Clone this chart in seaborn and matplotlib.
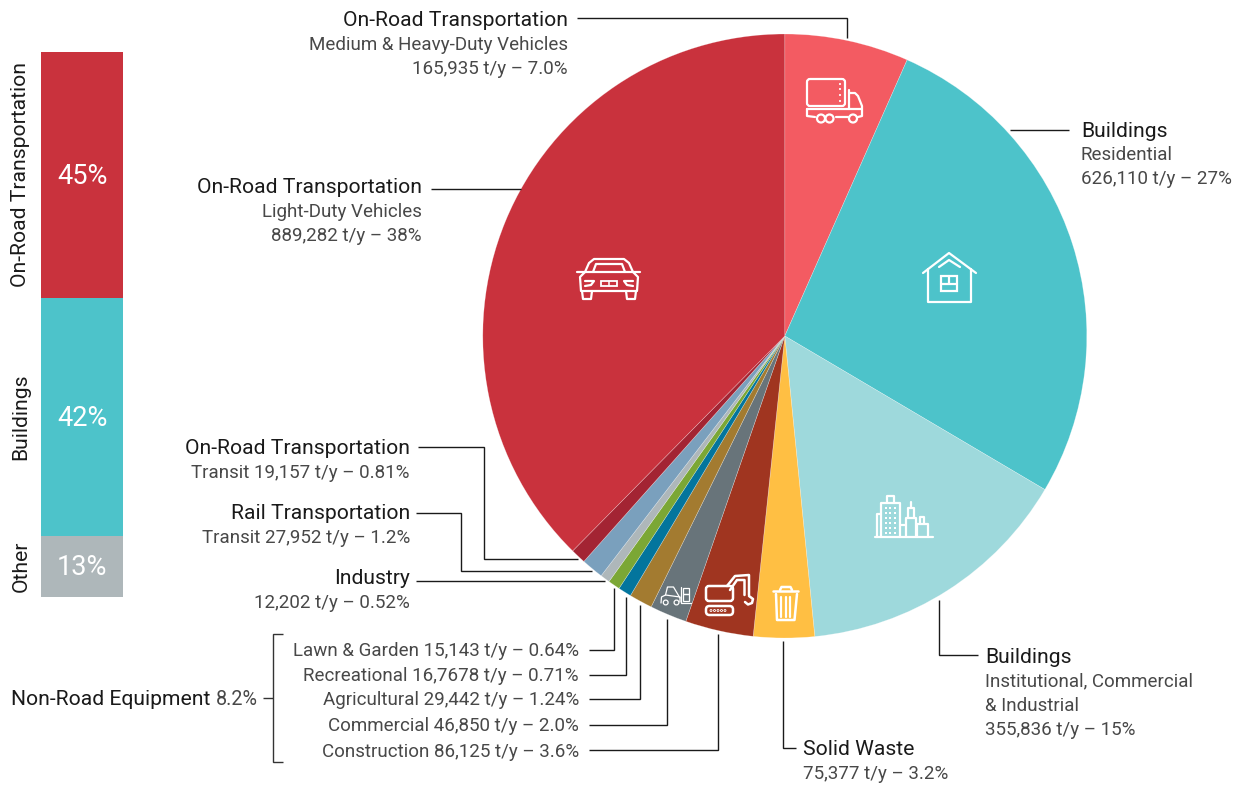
import matplotlib
matplotlib.use("Agg")
import matplotlib.pyplot as plt
from matplotlib.patches import FancyBboxPatch, Circle, Rectangle
import seaborn as sns
import pandas as pd

# ---- data ----
sector_names = ["Medium & Heavy-Duty Vehicles", "Residential", "Institutional, Commercial & Industrial",
                "Solid Waste", "Construction", "Commercial", "Agricultural", "Recreational",
                "Lawn & Garden", "Industry", "Rail Transit", "Road Transit", "Light-Duty Vehicles"]
# wedge sizes as drawn in the picture (the first wedges are drawn a little off their printed t/y)
sector_tonnes = [157000, 635000, 353000, 77000, 86125, 46850, 29442, 16768, 15143, 12202, 27952, 19157, 889282]
sector_colors = ["#F35B62", "#4DC3CA", "#9ED9DC", "#FFBF43", "#A03520", "#68747A", "#A37B30",
                 "#03759D", "#7BA735", "#AEB7BA", "#7AA0BD", "#A32433", "#C9323D"]

group_names = ["On-Road Transportation", "Buildings", "Other"]
group_heights = [45.1, 43.7, 11.2]   # drawn share of the stacked column
group_labels = ["45%", "42%", "13%"]
group_colors = ["#C9323D", "#4DC3CA", "#AEB7BA"]

W, H = 1243, 788
sns.set_theme(style="white")
plt.rcParams["font.family"] = ["Roboto", "DejaVu Sans"]
DARK, MID = "#1a1a1a", "#484848"
FS, FS2 = 15.2, 13.5

fig = plt.figure(figsize=(W / 100, H / 100), dpi=100, facecolor="white")


def px_axes(l, t, w, h, **kw):
    return fig.add_axes([l / W, 1 - (t + h) / H, w / W, h / H], **kw)


# ---- stacked column ----
ax_bar = px_axes(41, 52, 82, 545)
df = pd.DataFrame({"group": group_names, "share": group_heights, "color": group_colors})
bottom = 0.0
for i in range(len(df) - 1, -1, -1):
    sns.barplot(x=["stack"], y=[df.share[i]], bottom=bottom, color=df.color[i], width=1.0,
                saturation=1, ax=ax_bar, linewidth=0)
    bottom += df.share[i]
ax_bar.set_ylim(0, sum(group_heights))
ax_bar.set_xlim(-0.5, 0.5)
ax_bar.axis("off")
top = sum(group_heights)
for name, h, lab in zip(group_names, group_heights, group_labels):
    mid = top - h / 2
    ax_bar.annotate(lab, xy=(0.5, mid), xycoords=("axes fraction", "data"), xytext=(0, -1.5),
                    textcoords="offset pixels", color="white", ha="center", va="center", fontsize=19.5)
    ax_bar.annotate(name, xy=(0, mid), xycoords=("axes fraction", "data"), xytext=(-20, 0),
                    textcoords="offset pixels", rotation=90, ha="center", va="center",
                    fontsize=FS, color=DARK)
    top -= h

# ---- pie ----
ax_pie = px_axes(482.8, 34, 604, 604)
ax_pie.pie(sector_tonnes, colors=sector_colors, startangle=90, counterclock=False, radius=1.0,
           wedgeprops=dict(linewidth=0.4, edgecolor="#ffffff60"))
ax_pie.set_xlim(-1, 1)
ax_pie.set_ylim(-1, 1)

# ---- overlay in pixel units: labels, leaders, icons ----
ov = fig.add_axes([0, 0, 1, 1], facecolor="none")
ov.set_xlim(0, W)
ov.set_ylim(H, 0)
ov.axis("off")


def lead(*pts, c="#1a1a1a", lw=1.0):
    ov.plot([p[0] for p in pts], [p[1] for p in pts], color=c, lw=lw, solid_capstyle="butt",
            solid_joinstyle="miter")


def label(x, ys, lines, ha="right"):
    for i, (y, s) in enumerate(zip(ys, lines)):
        ov.text(x, y + (1.5 if i == 0 else 0.7), s, ha=ha, va="center", color=DARK if i == 0 else MID,
                fontsize=FS if i == 0 else FS2)


label(568, [19, 44, 68], ["On-Road Transportation", "Medium & Heavy-Duty Vehicles", "165,935 t/y – 7.0%"])
lead((577, 18), (847, 18), (847, 38))
label(1081, [130, 154, 178], ["Buildings", "Residential", "626,110 t/y – 27%"], ha="left")
lead((1010, 130), (1069, 130))
label(422, [186, 211, 235], ["On-Road Transportation", "Light-Duty Vehicles", "889,282 t/y – 38%"])
lead((431, 189), (521, 189))
label(410, [447, 472], ["On-Road Transportation", "Transit 19,157 t/y – 0.81%"])
lead((418, 447), (484, 447), (484, 559), (578, 559))
label(410, [512, 537], ["Rail Transportation", "Transit 27,952 t/y – 1.2%"])
lead((416, 513), (461, 513), (461, 571), (592, 571))
label(410, [577, 602], ["Industry", "12,202 t/y – 0.52%"])
lead((416, 581), (605, 581))
label(985, [656, 681, 705, 729], ["Buildings", "Institutional, Commercial", "& Industrial", "355,836 t/y – 15%"], ha="left")
lead((939, 600), (939, 655), (978, 655))
label(803, [748, 773], ["Solid Waste", "75,377 t/y – 3.2%"], ha="left")
lead((783, 641), (783, 748), (796, 748))

nonroad = ["Lawn & Garden 15,143 t/y – 0.64%", "Recreational 16,7678 t/y – 0.71%", "Agricultural 29,442 t/y – 1.24%",
           "Commercial 46,850 t/y – 2.0%", "Construction 86,125 t/y – 3.6%"]
for y, s in zip([650, 675, 699, 725, 751], nonroad):
    ov.text(579, y + 0.7, s, ha="right", va="center", color=MID, fontsize=FS2)
lead((589, 650), (614, 650), (614, 588))
lead((589, 675), (626, 675), (626, 597))
lead((589, 699), (640, 699), (640, 605))
lead((589, 725), (667, 725), (667, 619))
lead((589, 750), (718, 750), (718, 634))
lead((283, 634), (273, 634), (273, 762), (283, 762), c="#333333")
lead((263, 698), (273, 698), c="#333333")
ov.text(210, 699.5, "Non-Road Equipment", ha="right", va="center", color=DARK, fontsize=FS)
ov.text(216, 699.5, "8.2%", ha="left", va="center", color=MID, fontsize=14.2)


# ---- icons ----
def il(*pts, lw=1.6):
    ov.plot([p[0] for p in pts], [p[1] for p in pts], color="white", lw=lw, solid_capstyle="round",
            solid_joinstyle="round")


def rbox(x0, y0, x1, y1, r=3, lw=1.6):
    ov.add_patch(FancyBboxPatch((x0 + r, y0 + r), x1 - x0 - 2 * r, y1 - y0 - 2 * r,
                                boxstyle=f"round,pad={r},rounding_size={r}", fc="none", ec="white", lw=lw))


def circ(x, y, r, lw=1.6, fill=False):
    ov.add_patch(Circle((x, y), r, fc="white" if fill else "none", ec="white", lw=lw))


# truck
rbox(807, 79, 845, 106, 3)
for y in (84, 89, 95, 101):
    circ(840, y, 0.7, lw=0.5, fill=True)
il((807, 109), (807, 116), (815, 117))
il((836, 117), (848, 117))
il((858, 117), (862, 116), (862, 106), (858, 96), (855, 93), (849, 93), (849, 90))
il((849, 93), (849, 109))
il((807, 109), (861, 109))
circ(821, 118.5, 4)
circ(829.5, 118.5, 4)
circ(853, 118.5, 4)
# house
il((923, 273), (949, 253), (976, 273))
il((928, 269), (928, 302), (971, 302), (971, 269))
il((939, 267), (949, 260), (960, 267))
ov.add_patch(Rectangle((941.5, 276), 15.5, 15, fc="none", ec="white", lw=1.6))
il((941.5, 284), (957, 284))
il((949, 276), (949, 284))
# car
il((577, 272), (585, 272), (589, 263), (594, 259), (624, 259), (629, 263), (633, 272), (640, 272))
il((593, 272), (596, 264), (622, 264), (625, 272))
il((585, 272), (633, 272))
il((585, 272), (580, 277), (581, 291), (637, 291), (638, 277), (633, 272))
il((582, 291), (583, 299), (591, 299), (592, 291))
il((626, 291), (627, 299), (635, 299), (636, 291))
il((585, 281), (594, 281), (591, 285), (585, 286))
il((633, 281), (624, 281), (627, 285), (633, 286))
ov.add_patch(Rectangle((601, 281), 16, 5, fc="none", ec="white", lw=1.3))
il((609, 281), (609, 286), lw=1.1)
# buildings
il((875, 537), (933, 537))
il((877, 537), (877, 514), (881, 514))
il((881, 537), (881, 503), (900, 503), (900, 537))
il((887, 503), (887, 496), (894, 496), (894, 503))
for xx in (886, 890.5, 895):
    for yy in (508, 513, 518, 523, 528, 533):
        ov.add_patch(Rectangle((xx - 1, yy - 1), 2, 2, fc="white", ec="none"))
il((900, 525), (906, 525))
il((906, 537), (906, 518), (916, 518), (916, 537))
il((908, 518), (908, 508), (914, 508), (914, 518))
il((911, 508), (911, 502))
il((917, 524), (928, 524), (928, 537))
il((917, 537), (917, 524))
il((920, 524), (920, 517), (924, 517), (924, 524))
# forklift
il((665.5, 595), (667.5, 587), (673.5, 587), (680, 598), lw=0.9)
il((661, 603), (661.5, 597), (665.5, 595), (680, 597), (680, 602), lw=0.9)
circ(665.7, 602.5, 2.4, lw=0.9)
circ(676.5, 602.5, 2.4, lw=0.9)
il((681, 587), (681, 603), (691, 603), lw=0.9)
ov.add_patch(Rectangle((683, 588), 6, 6.3, fc="none", ec="white", lw=0.9))
ov.add_patch(Rectangle((683, 594.3), 6, 6.7, fc="none", ec="white", lw=0.9))
# excavator
rbox(706, 586, 733, 601, 3, lw=1.8)
il((727, 586), (735, 576), (749, 575), (749, 595), lw=1.8)
il((730, 590), (737, 580), (744.5, 580), (744.5, 595), lw=1.8)
il((749, 596), (753, 599), (752, 603), (748, 604.5), (745, 602), lw=1.8)
rbox(706, 606, 733, 615, 3.5, lw=1.8)
for xx in (711, 714.5, 718, 721.5, 725):
    circ(xx, 610.5, 1.0, lw=0.6)
# trash can
il((773, 591), (798, 591), lw=1.8)
il((780, 590), (781.5, 587), (790.5, 587), (792, 590), lw=1.8)
il((776, 594), (777, 620), (794.5, 620), (797, 594), lw=1.8)
for xx in (781.5, 786, 790.5):
    il((xx, 597), (xx, 617))

fig.savefig("out.png", dpi=100, facecolor="white")
